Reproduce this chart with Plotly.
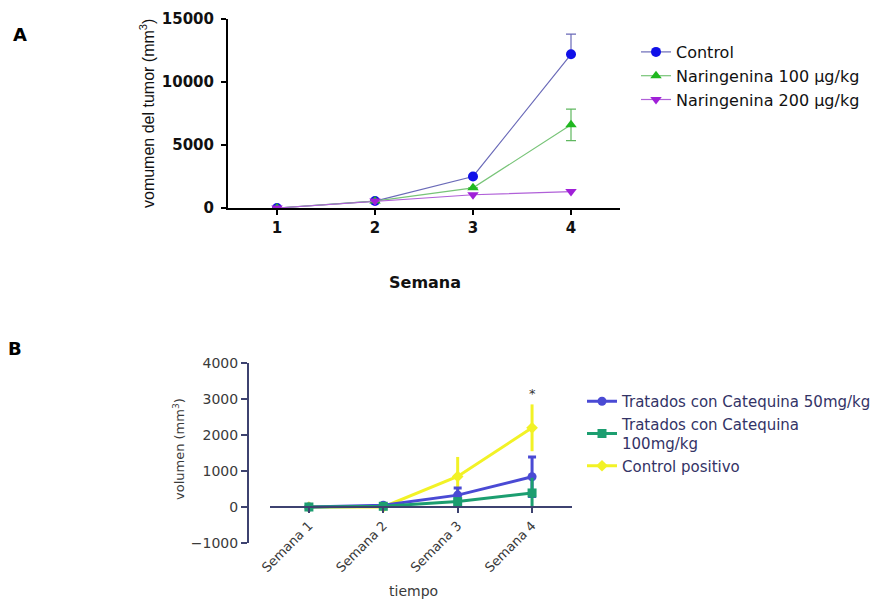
import plotly.graph_objects as go

# ---- Panel A data ----
weeks_a = [1, 2, 3, 4]
control_a = [0, 550, 2500, 12200]
control_a_err_up = [0, 0, 0, 1600]
nar100 = [0, 550, 1600, 6600]
nar100_err = [0, 0, 0, 1250]
nar200 = [0, 550, 1050, 1300]

# ---- Panel B data ----
weeks_b = ["Semana 1", "Semana 2", "Semana 3", "Semana 4"]
cat50 = [0, 50, 330, 840]
cat50_err = [0, 0, 200, 550]
cat100 = [0, 20, 150, 390]
cat100_err = [0, 0, 80, 420]
ctrl_pos = [0, 0, 850, 2200]
ctrl_pos_err = [0, 0, 540, 650]

W, H = 886, 601
OFF = 8  # page body margin
def px(x):
    return (x - OFF) / W
def py(y):
    return 1 - (y - OFF) / H

fig = go.Figure()

# Panel A traces
fig.add_trace(go.Scatter(
    x=weeks_a, y=control_a, name="Control", mode="lines+markers",
    line=dict(color="#6a6ab8", width=1.2),
    marker=dict(color="#1010e8", size=10, symbol="circle"),
    error_y=dict(type="data", symmetric=False, array=control_a_err_up,
                 arrayminus=[0, 0, 0, 0], color="#6a6ab8", thickness=1.2, width=5),
    xaxis="x", yaxis="y", legend="legend"))
fig.add_trace(go.Scatter(
    x=weeks_a, y=nar100, name="Naringenina 100 µg/kg", mode="lines+markers",
    line=dict(color="#78c478", width=1.2),
    marker=dict(color="#20b820", size=10, symbol="triangle-up"),
    error_y=dict(type="data", array=nar100_err, color="#60b860", thickness=1.2, width=5),
    xaxis="x", yaxis="y", legend="legend"))
fig.add_trace(go.Scatter(
    x=weeks_a, y=nar200, name="Naringenina 200 µg/kg", mode="lines+markers",
    line=dict(color="#b060d8", width=1.2),
    marker=dict(color="#a020d8", size=10, symbol="triangle-down"),
    xaxis="x", yaxis="y", legend="legend"))

# Panel B traces
fig.add_trace(go.Scatter(
    x=weeks_b, y=ctrl_pos, name="Control positivo", mode="lines+markers",
    line=dict(color="#f2f226", width=3),
    marker=dict(color="#f2f226", size=9, symbol="diamond"),
    error_y=dict(type="data", array=ctrl_pos_err, color="#f2f226", thickness=3, width=0),
    xaxis="x2", yaxis="y2", legend="legend2", legendrank=3))
fig.add_trace(go.Scatter(
    x=weeks_b, y=cat50, name="Tratados con Catequina 50mg/kg", mode="lines+markers",
    line=dict(color="#4a4ad4", width=3),
    marker=dict(color="#4a4ad4", size=9, symbol="circle"),
    error_y=dict(type="data", array=cat50_err, color="#4a4ad4", thickness=3, width=4),
    xaxis="x2", yaxis="y2", legend="legend2", legendrank=1))
fig.add_trace(go.Scatter(
    x=weeks_b, y=cat100, name="Tratados con Catequina<br>100mg/kg", mode="lines+markers",
    line=dict(color="#1c9e70", width=3),
    marker=dict(color="#1c9e70", size=9, symbol="square"),
    error_y=dict(type="data", array=cat100_err, color="#1c9e70", thickness=3, width=0),
    xaxis="x2", yaxis="y2", legend="legend2", legendrank=2))

fig.update_layout(
    width=W, height=H,
    margin=dict(l=0, r=0, t=0, b=0, autoexpand=False),
    paper_bgcolor="white", plot_bgcolor="white",
    xaxis=dict(domain=[px(228), px(620)], range=[0.5, 4.5], anchor="y",
               tickvals=weeks_a, showgrid=False, zeroline=False, automargin=False,
               showline=True, linecolor="black", linewidth=2,
               ticks="outside", ticklen=5, tickwidth=2, tickcolor="black",
               tickfont=dict(family="DejaVu Sans", size=15, color="#111", weight="bold")),
    yaxis=dict(domain=[py(208), py(19)], range=[0, 15000], anchor="x",
               tickvals=[0, 5000, 10000, 15000], tickformat="d",
               showgrid=False, zeroline=False, automargin=False,
               showline=True, linecolor="black", linewidth=2,
               ticks="outside", ticklen=5, tickwidth=2, tickcolor="black",
               ticklabelstandoff=4,
               tickfont=dict(family="DejaVu Sans", size=15, color="#111", weight="bold")),
    xaxis2=dict(domain=[px(270), px(572)], range=[-0.523, 3.537], anchor="free",
                position=py(507), type="category", categoryorder="array",
                categoryarray=weeks_b, showgrid=False, zeroline=False, automargin=False,
                showline=True, linecolor="#3d4270", linewidth=2,
                ticks="outside", ticklen=5, tickwidth=2, tickcolor="#3d4270",
                tickangle=-45,
                tickfont=dict(family="DejaVu Sans", size=13, color="#3a3a3a")),
    yaxis2=dict(domain=[py(543), py(363)], range=[-1000, 4000], anchor="free",
                position=px(248), tickvals=[-1000, 0, 1000, 2000, 3000, 4000],
                tickformat="d", showgrid=False, zeroline=False, automargin=False,
                showline=True, linecolor="#3d4270", linewidth=2,
                ticks="outside", ticklen=6, tickwidth=2, tickcolor="#3d4270",
                tickfont=dict(family="DejaVu Sans", size=14, color="#3a3a3a")),
    legend=dict(x=px(636), y=py(35), xanchor="left", yanchor="top",
                bgcolor="rgba(0,0,0,0)", tracegroupgap=0,
                font=dict(family="DejaVu Sans", size=16, color="#111")),
    legend2=dict(x=px(582), y=py(385), xanchor="left", yanchor="top",
                 bgcolor="rgba(0,0,0,0)", traceorder="normal",
                 font=dict(family="DejaVu Sans", size=15, color="#333366")),
    showlegend=True,
    annotations=[
        dict(text="A", x=px(20), y=py(35), xref="paper", yref="paper", showarrow=False,
             xanchor="center", yanchor="middle",
             font=dict(family="DejaVu Sans", size=18, color="black", weight="bold")),
        dict(text="B", x=px(15), y=py(348), xref="paper", yref="paper", showarrow=False,
             xanchor="center", yanchor="middle",
             font=dict(family="DejaVu Sans", size=18, color="black", weight="bold")),
        dict(text="vomumen del tumor (mm<sup>3</sup>)", x=px(147), y=py(114),
             xref="paper", yref="paper", showarrow=False, textangle=-90,
             xanchor="center", yanchor="middle",
             font=dict(family="Liberation Sans", size=16, color="#111")),
        dict(text="Semana", x=px(425), y=py(282), xref="paper", yref="paper",
             showarrow=False, xanchor="center", yanchor="middle",
             font=dict(family="DejaVu Sans", size=16, color="#111", weight="bold")),
        dict(text="volumen (mm<sup>3</sup>)", x=px(179), y=py(449),
             xref="paper", yref="paper", showarrow=False, textangle=-90,
             xanchor="center", yanchor="middle",
             font=dict(family="DejaVu Sans", size=13, color="#3a3a3a")),
        dict(text="tiempo", x=px(413), y=py(591), xref="paper", yref="paper",
             showarrow=False, xanchor="center", yanchor="middle",
             font=dict(family="DejaVu Sans", size=14, color="#3a3a3a")),
        dict(text="*", x="Semana 4", y=2900, xref="x2", yref="y2", showarrow=False,
             yanchor="bottom",
             font=dict(family="DejaVu Sans", size=13, color="#333")),
    ],
)

fig.write_html("out.html")
